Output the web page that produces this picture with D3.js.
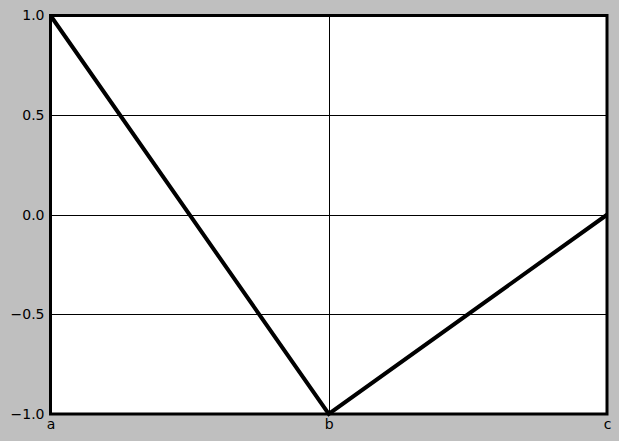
<!DOCTYPE html>
<html><head><meta charset="utf-8">
<script src="https://cdn.jsdelivr.net/npm/d3@7"></script>
<style>html,body{margin:0;padding:0;background:#bfbfbf;}svg{display:block;}</style>
</head><body>
<script>
const categories = ["a", "b", "c"];
const values = [1.0, -1.0, 0.0];
const yTicks = [-1.0, -0.5, 0.0, 0.5, 1.0];

const W = 619, H = 441;
const m = {left: 50.5, right: 12, top: 15.5, bottom: 27};
const svg = d3.select("body").append("svg").attr("width", W).attr("height", H);
svg.append("rect").attr("width", W).attr("height", H).attr("fill", "#bfbfbf");

const x = d3.scalePoint().domain(categories).range([m.left, W - m.right]);
const y = d3.scaleLinear().domain([-1, 1]).range([H - m.bottom, m.top]);

svg.append("rect").attr("x", m.left).attr("y", m.top)
  .attr("width", W - m.right - m.left).attr("height", H - m.bottom - m.top).attr("fill", "#fff");

const g = svg.append("g");
g.selectAll(".hg").data(yTicks).join("line")
  .attr("x1", m.left).attr("x2", W - m.right)
  .attr("y1", d => Math.round(y(d)) + 0.5).attr("y2", d => Math.round(y(d)) + 0.5)
  .attr("stroke", "#000").attr("stroke-width", 1);
g.selectAll(".vg").data(categories).join("line")
  .attr("x1", d => Math.round(x(d)) + 0.5).attr("x2", d => Math.round(x(d)) + 0.5)
  .attr("y1", m.top).attr("y2", H - m.bottom)
  .attr("stroke", "#000").attr("stroke-width", 1);

const line = d3.line().x((d, i) => x(categories[i])).y(d => y(d));
svg.append("path").datum(values).attr("d", line)
  .attr("fill", "none").attr("stroke", "#000").attr("stroke-width", 4)
  .attr("stroke-linejoin", "miter");

svg.append("rect").attr("x", m.left).attr("y", m.top)
  .attr("width", W - m.right - m.left).attr("height", H - m.bottom - m.top)
  .attr("fill", "none").attr("stroke", "#000").attr("stroke-width", 3);

const yAxis = d3.axisLeft(y).tickValues(yTicks).tickSize(0).tickPadding(6)
  .tickFormat(d => d3.format(".1f")(d).replace("-", "\u2212"));
const ya = svg.append("g").attr("transform", `translate(${m.left},0)`).call(yAxis);
const xAxis = d3.axisBottom(x).tickSize(0).tickPadding(5);
const xa = svg.append("g").attr("transform", `translate(0,${H - m.bottom})`).call(xAxis);
[ya, xa].forEach(a => {
  a.select(".domain").remove();
  a.selectAll("text").attr("font-family", "DejaVu Sans").attr("font-size", 14).attr("fill", "#000");
});
</script>
</body></html>
